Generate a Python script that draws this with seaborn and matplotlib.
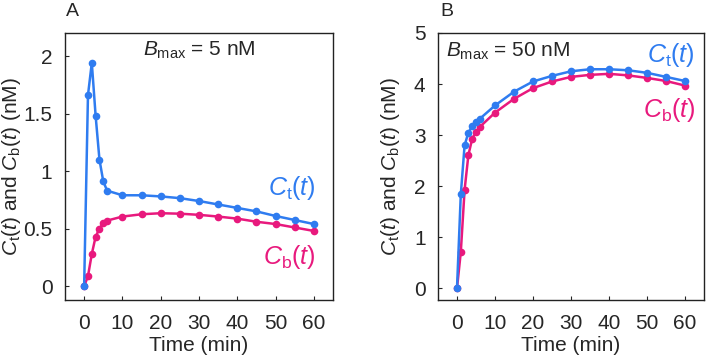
import numpy as np
import pandas as pd
import matplotlib
matplotlib.use('Agg')
import matplotlib.pyplot as plt
import seaborn as sns

# data
time_min = [0, 1, 2, 3, 4, 5, 6, 10, 15, 20, 25, 30, 35, 40, 45, 50, 55, 60]

ct_a = [0, 1.66, 1.94, 1.48, 1.10, 0.91, 0.83, 0.79, 0.79, 0.78, 0.765, 0.74,
        0.71, 0.68, 0.65, 0.61, 0.575, 0.54]
cb_a = [0, 0.087, 0.28, 0.43, 0.50, 0.55, 0.57, 0.605, 0.625, 0.634, 0.63, 0.62,
        0.605, 0.587, 0.56, 0.54, 0.51, 0.48]

ct_b = [0, 1.84, 2.80, 3.05, 3.17, 3.25, 3.32, 3.58, 3.85, 4.05, 4.16, 4.25,
        4.29, 4.29, 4.27, 4.22, 4.14, 4.06]
cb_b = [0, 0.71, 1.93, 2.61, 2.93, 3.06, 3.16, 3.44, 3.71, 3.92, 4.05, 4.14,
        4.18, 4.20, 4.17, 4.12, 4.06, 3.97]

yticks_a = [0, 0.5, 1, 1.5, 2]
yticklabels_a = ['0', '0.5', '1', '1.5', '2']
yticks_b = [0, 1, 2, 3, 4, 5]
xticks = [0, 10, 20, 30, 40, 50, 60]

BLUE = '#2f7cf0'
PINK = '#e8197d'
FS = 15

sns.set_style('ticks')
plt.rcParams['font.family'] = ['Liberation Sans', 'DejaVu Sans']
plt.rcParams['mathtext.fontset'] = 'custom'
plt.rcParams['mathtext.rm'] = 'Liberation Sans'
plt.rcParams['mathtext.it'] = 'Liberation Sans:italic'
plt.rcParams['mathtext.bf'] = 'Liberation Sans:bold'

fig = plt.figure(figsize=(7.07, 3.62), dpi=100)
ax_a = fig.add_axes([65 / 707, 1 - 300 / 362, 268 / 707, 267 / 362])
ax_b = fig.add_axes([438 / 707, 1 - 300 / 362, 266 / 707, 267 / 362])

ylabel = r'$\mathit{C}_\mathrm{t}(\mathit{t})$ and $\mathit{C}_\mathrm{b}(\mathit{t})$ (nM)'
ct_lab = r'$\mathit{C}_\mathrm{t}(\mathit{t})$'
cb_lab = r'$\mathit{C}_\mathrm{b}(\mathit{t})$'


def draw_panel(ax, ct, cb, ylab_x):
    df = pd.DataFrame({'t': time_min, 'Ct': ct, 'Cb': cb})
    sns.lineplot(data=df, x='t', y='Ct', ax=ax, color=BLUE, marker='o',
                 markersize=5.5, markeredgewidth=0, linewidth=1.8, zorder=3)
    sns.lineplot(data=df, x='t', y='Cb', ax=ax, color=PINK, marker='o',
                 markersize=5.5, markeredgewidth=0, linewidth=1.8, zorder=2)
    ax.set_xlim(-5, 65)
    ax.set_xticks(xticks)
    ax.set_xlabel('Time (min)', fontsize=FS, labelpad=2)
    ax.set_ylabel(ylabel, fontsize=FS)
    ax.yaxis.label.set_va('center')
    ax.yaxis.set_label_coords(ylab_x, 0.5)
    ax.tick_params(direction='in', length=3, width=0.8, labelsize=FS)
    ax.tick_params(axis='x', pad=10)
    ax.tick_params(axis='y', pad=9)
    for s in ax.spines.values():
        s.set_linewidth(1.0)
        s.set_color('#222222')


draw_panel(ax_a, ct_a, cb_a, -0.198)
ax_a.set_ylim(-0.12, 2.2)
ax_a.set_yticks(yticks_a)
ax_a.set_yticklabels(yticklabels_a)
ax_a.text(0.5, 0.935, r'$\mathit{B}_\mathrm{max}$ = 5 nM', transform=ax_a.transAxes,
          ha='center', va='center', fontsize=FS)
ax_a.text(60.5, 0.85, ct_lab, color=BLUE, fontsize=18, ha='right', va='center')
ax_a.text(60.5, 0.25, cb_lab, color=PINK, fontsize=18, ha='right', va='center')
fig.text(66 / 707, 1 - 12 / 362, 'A', fontsize=14, va='center')

draw_panel(ax_b, ct_b, cb_b, -0.177)
ax_b.set_ylim(-0.23, 5)
ax_b.set_yticks(yticks_b)
ax_b.text(0.03, 0.93, r'$\mathit{B}_\mathrm{max}$ = 50 nM', transform=ax_b.transAxes,
          ha='left', va='center', fontsize=FS)
ax_b.text(62.7, 4.57, ct_lab, color=BLUE, fontsize=18, ha='right', va='center')
ax_b.text(62.7, 3.5, cb_lab, color=PINK, fontsize=18, ha='right', va='center')
fig.text(440 / 707, 1 - 11 / 362, 'B', fontsize=14, va='center')

fig.savefig('out.png', dpi=100)
